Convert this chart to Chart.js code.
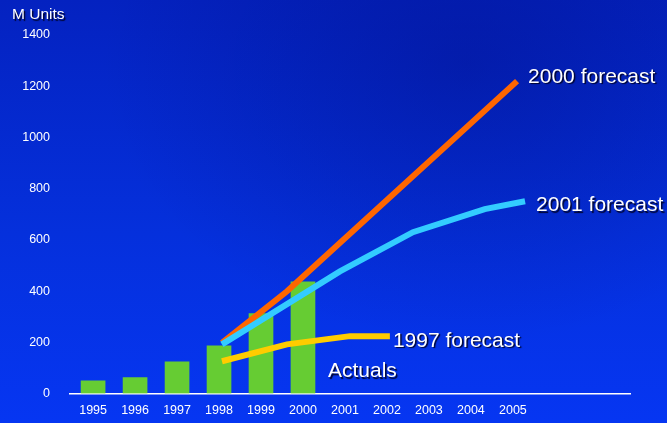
<!DOCTYPE html>
<html>
<head>
<meta charset="utf-8">
<script src="https://cdn.jsdelivr.net/npm/chart.js@4.4.0/dist/chart.umd.min.js"></script>
<style>
  html, body { margin: 0; padding: 0; }
  body {
    width: 667px; height: 423px; overflow: hidden;
    background:
      radial-gradient(ellipse at 70% 15%, rgba(0,10,120,0.35), rgba(0,0,0,0) 55%),
      linear-gradient(180deg, #0422c0 0%, #0530dc 55%, #0636f2 100%);
  }
  #wrap { position: relative; width: 667px; height: 423px; }
</style>
</head>
<body>
<div id="wrap"><canvas id="chart"></canvas></div>
<script>
// x tick labels
const years = [1995, 1996, 1997, 1998, 1999, 2000, 2001, 2002, 2003, 2004, 2005];

// actual shipments (bars)
const actualYears = [1995, 1996, 1997, 1998, 1999, 2000];
const actuals = [49, 62, 124, 186, 312, 436];

// forecast lines, x (not always on a year)
const f2000Years = [1998.07, 1999.62, 2005.1];
const f2000 = [198, 399, 1220];

const f2001Years = [1998.07, 2000.88, 2002.62, 2004.33, 2005.29];
const f2001 = [192, 477, 630, 720, 751];

const f1997Years = [1998.07, 1999.62, 2001.12, 2002.07];
const f1997 = [126, 192, 224, 224];

const yTicks = [0, 200, 400, 600, 800, 1000, 1200, 1400];

const FONT = 'Arial, "Liberation Sans", sans-serif';

function pts(xs, ys) {
  return xs.map((x, i) => ({ x: x, y: ys[i] }));
}

const labelsPlugin = {
  id: 'slideLabels',
  afterDraw(chart) {
    const ctx = chart.ctx;
    const x = chart.scales.x, y = chart.scales.y;
    ctx.save();
    ctx.fillStyle = '#ffffff';
    ctx.shadowColor = 'rgba(0,0,30,0.9)';
    ctx.shadowOffsetX = 1.5;
    ctx.shadowOffsetY = 1.5;
    ctx.shadowBlur = 1;
    ctx.textBaseline = 'middle';
    ctx.textAlign = 'left';

    ctx.font = '15.5px ' + FONT;
    ctx.fillText('M Units', 12, 15);

    ctx.font = '21px ' + FONT;
    const n0 = f2000.length - 1;
    ctx.fillText('2000 forecast', x.getPixelForValue(f2000Years[n0]) + 11, y.getPixelForValue(f2000[n0]) - 4);
    const n1 = f2001.length - 1;
    ctx.fillText('2001 forecast', x.getPixelForValue(f2001Years[n1]) + 11, y.getPixelForValue(f2001[n1]) + 4.5);
    const n7 = f1997.length - 1;
    ctx.fillText('1997 forecast', x.getPixelForValue(f1997Years[n7]) + 3, y.getPixelForValue(f1997[n7]) + 5);
    ctx.fillText('Actuals', x.getPixelForValue(2000) + 25, y.getPixelForValue(86));
    ctx.restore();
  }
};

new Chart(document.getElementById('chart'), {
  data: {
    datasets: [
      {
        type: 'line',
        label: '2001 forecast',
        data: pts(f2001Years, f2001),
        borderColor: '#33ccff',
        borderWidth: 6,
        pointRadius: 0,
        tension: 0,
        order: 1
      },
      {
        type: 'line',
        label: '2000 forecast',
        data: pts(f2000Years, f2000),
        borderColor: '#ff6600',
        borderWidth: 6,
        pointRadius: 0,
        tension: 0,
        order: 2
      },
      {
        type: 'line',
        label: '1997 forecast',
        data: pts(f1997Years, f1997),
        borderColor: '#ffcc00',
        borderWidth: 6,
        pointRadius: 0,
        tension: 0,
        order: 3
      },
      {
        type: 'bar',
        label: 'Actuals',
        data: pts(actualYears, actuals),
        backgroundColor: '#66cc33',
        borderWidth: 0,
        barThickness: 24,
        order: 10
      }
    ]
  },
  options: {
    responsive: true,
    maintainAspectRatio: false,
    animation: false,
    layout: { padding: { top: 35, right: 37, left: 0, bottom: 0 } },
    plugins: {
      legend: { display: false },
      tooltip: { enabled: false }
    },
    scales: {
      x: {
        type: 'linear',
        offset: false,
        min: 1994.45,
        max: 2007.79,
        afterBuildTicks: s => { s.ticks = years.map(v => ({ value: v })); },
        afterFit: s => { s.height = 29.5; },
        grid: { display: false, drawTicks: false, offset: false },
        border: { display: true, color: '#ffffff', width: 1.5 },
        ticks: {
          color: '#ffffff',
          font: { family: FONT, size: 12.5 },
          padding: 10,
          maxRotation: 0,
          autoSkip: false,
          callback: v => String(v)
        }
      },
      y: {
        min: 0,
        max: 1400,
        afterBuildTicks: s => { s.ticks = yTicks.map(v => ({ value: v })); },
        afterFit: s => { s.width = 70; },
        grid: { display: false, drawTicks: false },
        border: { display: false },
        ticks: {
          color: '#ffffff',
          font: { family: FONT, size: 12.5 },
          padding: 20,
          callback: v => String(v)
        }
      }
    }
  },
  plugins: [labelsPlugin]
});
</script>
</body>
</html>
